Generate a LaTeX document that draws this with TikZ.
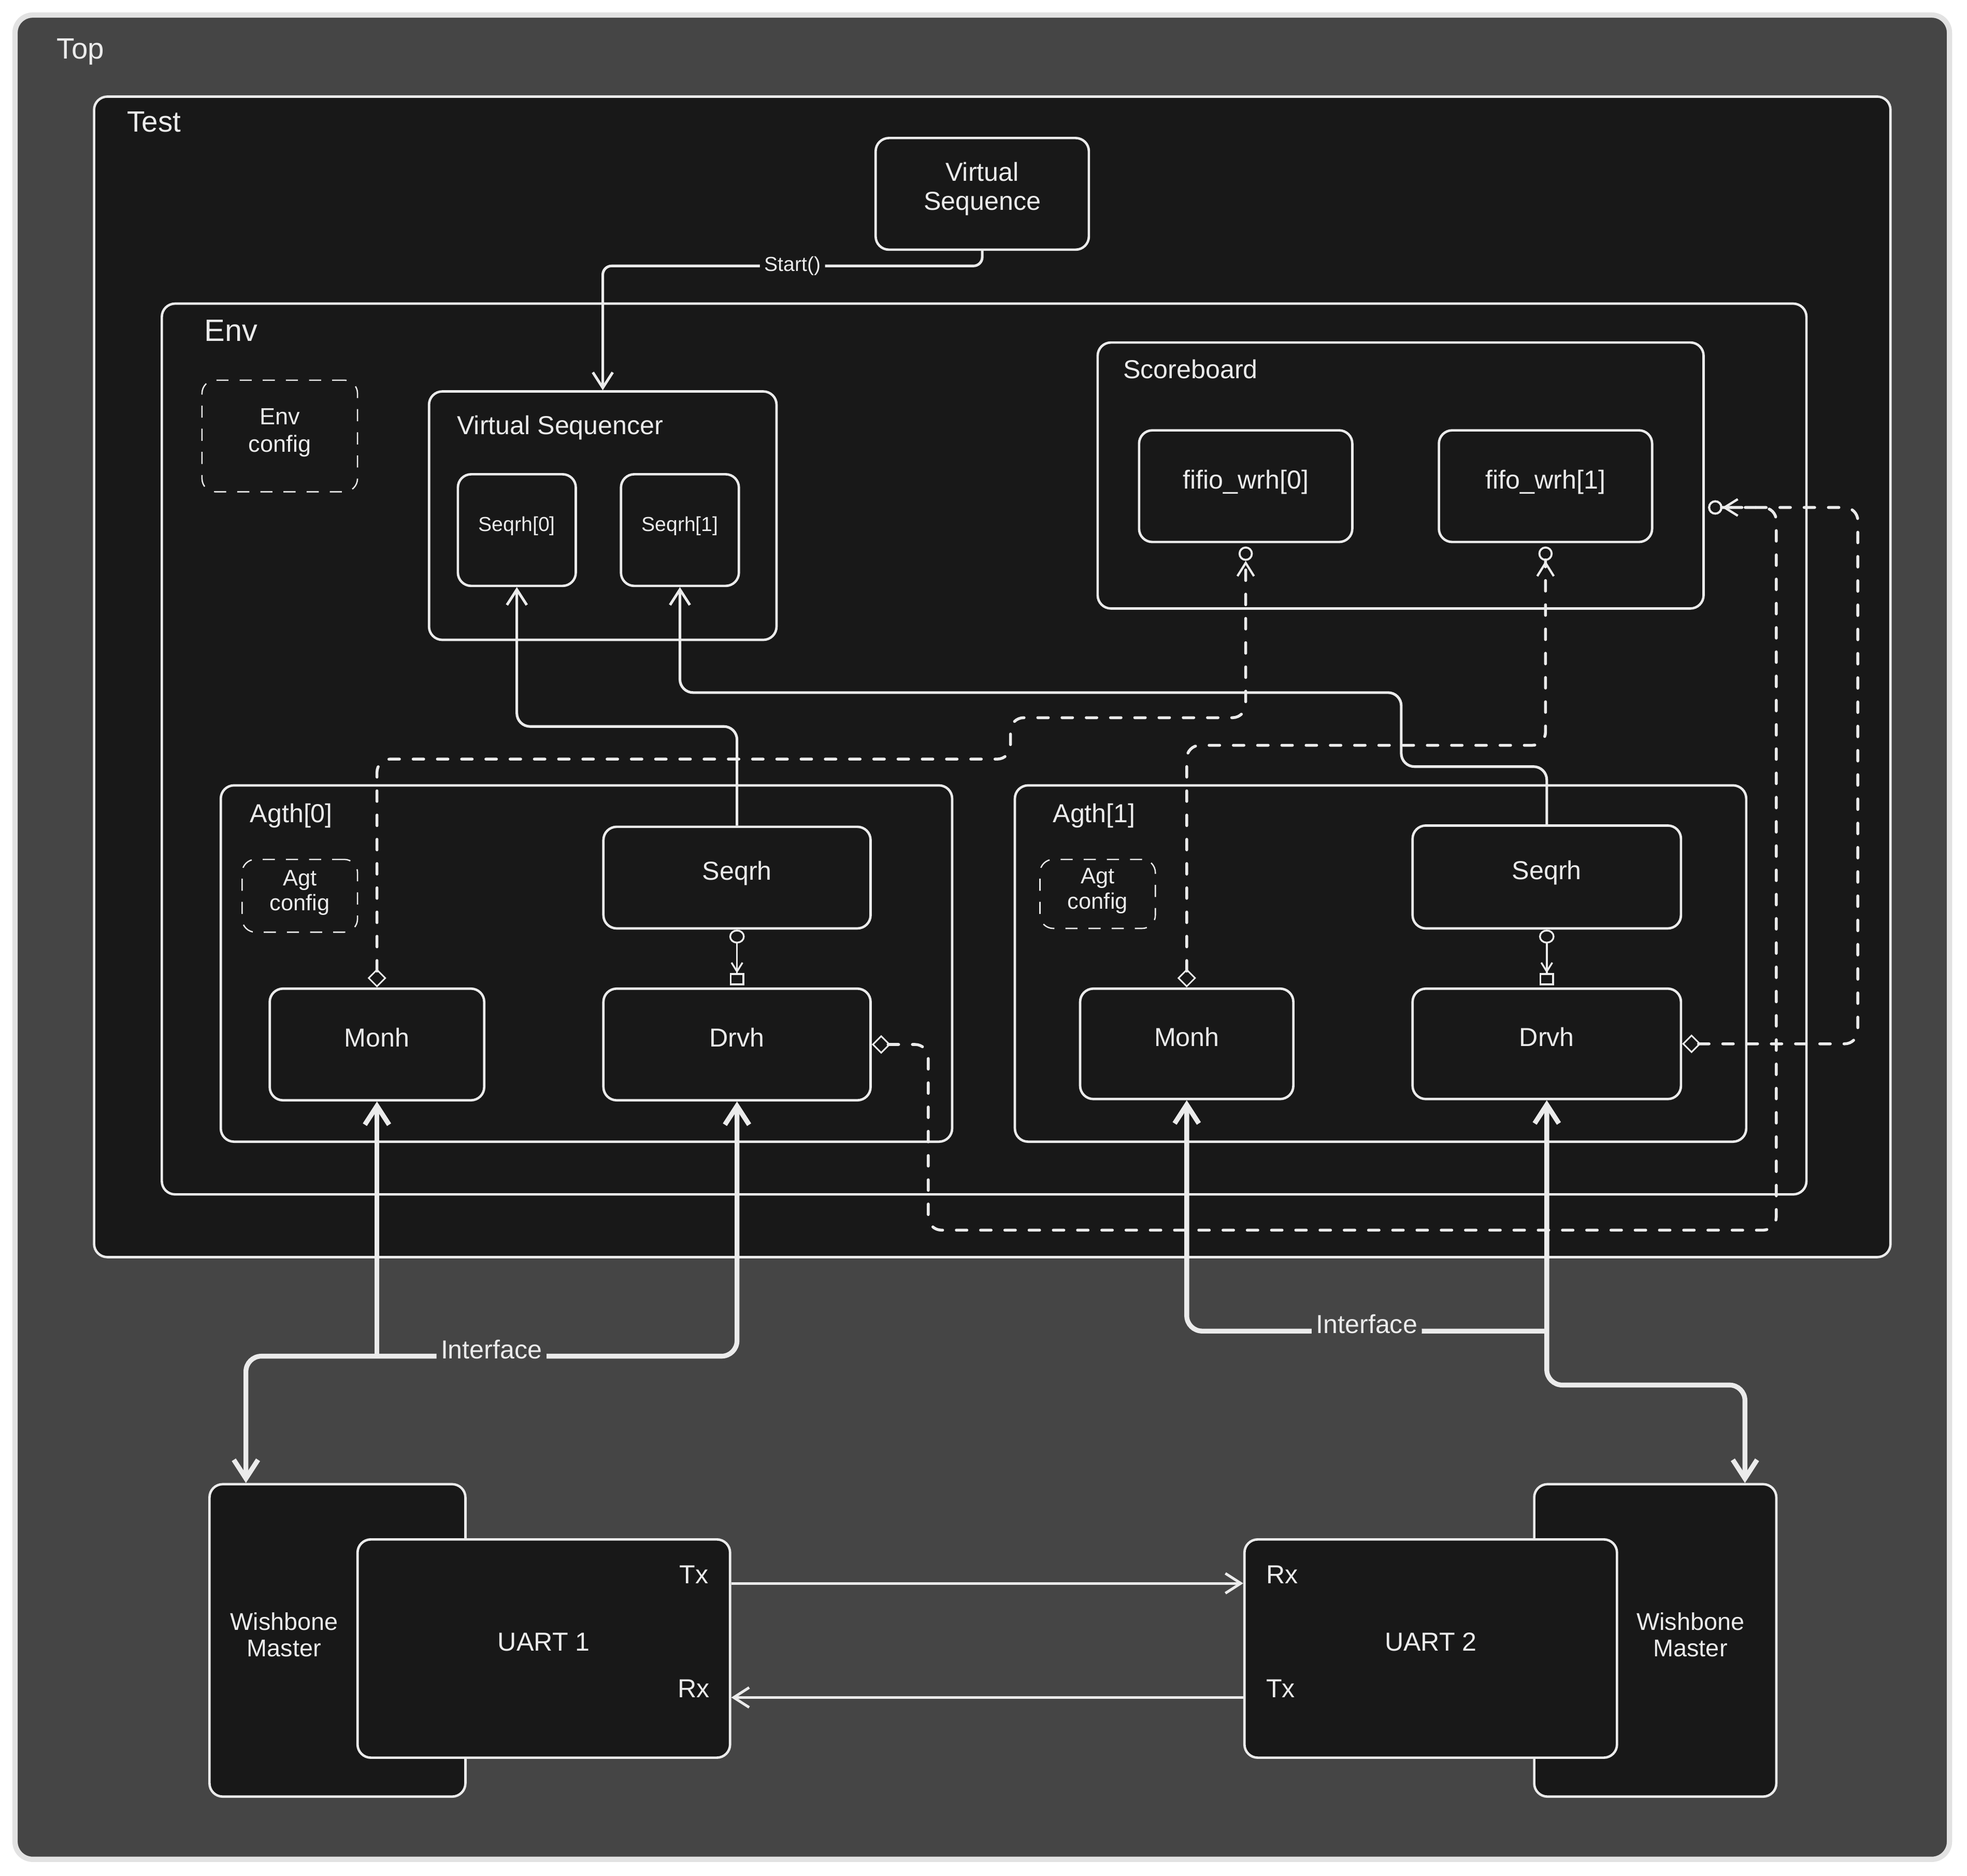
\documentclass[tikz,border=0pt]{standalone}
\usepackage{fontspec}
\setmainfont{Liberation Sans}
\usetikzlibrary{arrows.meta,calc,fit}

% colours
\definecolor{bgtop}{HTML}{454545}
\definecolor{panel}{HTML}{181818}
\definecolor{ink}{HTML}{EBEBEB}
\definecolor{rim}{HTML}{E2E2E2}

% fonts
\newcommand{\lblfont}{\fontsize{11.8pt}{13pt}\selectfont}
\newcommand{\ttlfont}{\fontsize{13.3pt}{16pt}\selectfont}
\newcommand{\envfont}{\fontsize{14pt}{17pt}\selectfont}
\newcommand{\smlfont}{\fontsize{9.2pt}{11pt}\selectfont}
\newcommand{\cfgfont}{\fontsize{10.2pt}{11.5pt}\selectfont}
\newcommand{\ecfgfont}{\fontsize{10.6pt}{12.4pt}\selectfont}
\newcommand{\wbfont}{\fontsize{11pt}{12pt}\selectfont}

\tikzset{
  busTip/.tip={Straight Barb[length=8.5pt,width=11pt]},
  thinTip/.tip={Straight Barb[length=7pt,width=9pt]},
  diaTip/.tip={Diamond[open,length=8.5pt,width=8.5pt,line width=0.7pt]},
  ringTip/.tip={Straight Barb[length=6pt,width=7.5pt,line width=1pt] Circle[open,length=6.5pt,width=6.5pt,line width=0.9pt,sep=1.5pt]},
  dotTip/.tip={Circle[open,length=6.3pt,width=7pt]},
  plugTip/.tip={Straight Barb[length=4pt,width=5pt] Square[open,length=5.5pt,width=6.5pt,sep=1pt]},
  frame/.style={draw=ink, fill=panel, line width=1.1pt, rounded corners=6pt, inner sep=0pt},
  box/.style={frame, text=ink, font=\lblfont, align=center, text height=8.9pt, text depth=6.7pt},
  twoline/.style={text height=21.9pt, text depth=7.3pt},
  small/.style={font=\smlfont, text height=6.8pt, text depth=5.6pt},
  cfgbox/.style={box, font=\cfgfont, line width=0.6pt, dash pattern=on 5.5pt off 5pt, text height=19.3pt, text depth=5.7pt},
  ttl/.style={text=ink, font=\lblfont, anchor=base west, inner sep=0pt},
  port/.style={text=ink, font=\lblfont, inner sep=0pt},
  conn/.style={draw=ink, line width=1.2pt, rounded corners=6pt, -thinTip},
  link/.style={draw=ink, line width=1.3pt, rounded corners=6pt, dash pattern=on 4.8pt off 6.2pt, line cap=round, diaTip-ringTip},
  bind/.style={draw=ink, line width=0.8pt, dotTip-plugTip},
  bus/.style={draw=ink, line width=2.2pt, rounded corners=7pt},
  buslbl/.style={fill=bgtop, text=ink, font=\lblfont, inner xsep=2pt, inner ysep=0pt, text height=8.9pt, text depth=6.7pt},
}

\begin{document}
\begin{tikzpicture}[x=0.02cm, y=-0.02cm]
    % canvas
    \fill[white] (0,0) rectangle (1568,1495);
    \useasboundingbox (0,0) rectangle (1568,1495);

    % Top, Test and the virtual sequence
    \node[frame, draw=rim, fill=bgtop, line width=2.4pt, rounded corners=8pt, fit={(12,12) (1554,1482)}] (top) {};
    \node[frame, fit={(75,77) (1507,1002)}] (test) {};
    \node[box, twoline, minimum width=3.40cm, minimum height=1.78cm] (vseq) at (783,154.5) {Virtual\\Sequence};

    % Env
    \node[frame, fit={(129,242) (1440,952)}] (env) {};
    \node[cfgbox, font=\ecfgfont, text height=20.4pt, text depth=6pt, minimum width=2.48cm, minimum height=1.78cm] (envcfg) at (223,347.5) {Env\\config};

    % Virtual sequencer
    \node[frame, fit={(342,312) (619,510)}] (vsqr) {};
    \node[box, small, minimum width=1.88cm, minimum height=1.78cm] (sq0) at (412,422.5) {Seqrh[0]};
    \node[box, small, minimum width=1.88cm, minimum height=1.78cm] (sq1) at (542,422.5) {Seqrh[1]};

    % Scoreboard
    \node[frame, fit={(875,273) (1358,485)}] (sb) {};
    \node[box, minimum width=3.40cm, minimum height=1.78cm] (fw0) at (993,387.5) {fifio\_wrh[0]};
    \node[box, minimum width=3.40cm, minimum height=1.78cm] (fw1) at (1232,387.5) {fifo\_wrh[1]};

    % Agent 0
    \node[frame, fit={(176,626) (759,910)}] (aga) {};
    \node[cfgbox, minimum width=1.84cm, minimum height=1.16cm] (cfga) at (239,714) {Agt\\config};
    \node[box, minimum width=4.26cm, minimum height=1.62cm] (sqa) at (587.5,699.5) {Seqrh};
    \node[box, minimum width=3.42cm, minimum height=1.78cm] (mona) at (300.5,832.5) {Monh};
    \node[box, minimum width=4.26cm, minimum height=1.78cm] (drva) at (587.5,832.5) {Drvh};

    % Agent 1
    \node[frame, fit={(809,626) (1392,910)}] (agb) {};
    \node[cfgbox, minimum width=1.84cm, minimum height=1.10cm] (cfgb) at (875,712.5) {Agt\\config};
    \node[box, minimum width=4.28cm, minimum height=1.64cm] (sqb) at (1233,699) {Seqrh};
    \node[box, minimum width=3.40cm, minimum height=1.76cm] (monb) at (946,832) {Monh};
    \node[box, minimum width=4.28cm, minimum height=1.76cm] (drvb) at (1233,832) {Drvh};

    % DUT side: wishbone masters behind the UARTs
    \node[frame, fit={(167,1183) (371,1432)}] (wba) {};
    \node[frame, fit={(1223,1183) (1416,1432)}] (wbb) {};
    \node[box, minimum width=5.94cm, minimum height=3.48cm] (ua) at (433.5,1314) {UART 1};
    \node[box, minimum width=5.94cm, minimum height=3.48cm] (ub) at (1140.5,1314) {UART 2};
    \node[port, font=\wbfont, align=center] (wbalbl) at (226.5,1302.8) {Wishbone\\Master};
    \node[port, font=\wbfont, align=center] (wbblbl) at (1347.5,1302.8) {Wishbone\\Master};
    \node[port, anchor=base east] (txa) at (565,1262) {Tx};
    \node[port, anchor=base east] (rxa) at (566,1353) {Rx};
    \node[port, anchor=base west] (rxb) at (1009,1262) {Rx};
    \node[port, anchor=base west] (txb) at (1009,1353) {Tx};

    % frame titles
    \node[ttl, font=\ttlfont] (toplbl) at (45,47) {Top};
    \node[ttl, font=\ttlfont] (testlbl) at (101,105) {Test};
    \node[ttl, font=\envfont] (envlbl) at (162.5,272) {Env};
    \node[ttl] (vsqrlbl) at (364,346.3) {Virtual Sequencer};
    \node[ttl] (sblbl) at (895,301.5) {Scoreboard};
    \node[ttl] (agalbl) at (199,655.6) {Agth[0]};
    \node[ttl] (agblbl) at (839,655.6) {Agth[1]};

    % sequence start
    \draw[conn, rounded corners=4pt] (vseq.south) -- ++(0,12) -| (vsqr.north)
        node[pos=0.25, fill=panel, text=ink, font=\smlfont, inner xsep=2pt, inner ysep=1pt] {Start()};

    % sequencer handles
    \draw[conn] (sqa.north) -- ++(0,-79) -| (sq0.south);
    \draw[conn] (sqb.north) -- ++(0,-46) -- ++(-116,0) -- ++(0,-59) -| (sq1.south);

    % sequencer to driver
    \draw[bind] (sqa.south) -- (drva.north);
    \draw[bind] (sqb.south) -- (drvb.north);

    % analysis ports to the scoreboard
    \draw[link] (mona.north) -- ++(0,-182) -- ++(505,0) -- ++(0,-33) -| (fw0.south);
    \draw[link] (monb.north) -- ++(0,-193) -| (fw1.south);
    \draw[link] (drva.east) -- ++(45,0) -- ++(0,148) -- ++(676,0) |- (sb.-6.4);
    \draw[link] (drvb.east) -- ++(140,0) |- (sb.-6.4);

    % interfaces
    \draw[bus, busTip-busTip] (drva.south) -- ++(0,203) coordinate (busa)
        -| ($(wba.north west)+(30,0)$) node[buslbl, pos=0.25] (ifa) {Interface};
    \draw[bus, busTip-] (mona.south) -- (mona.south |- busa);
    \draw[bus, busTip-busTip] (drvb.south) -- ++(0,227) -| ($(wbb.north east)+(-26,0)$);
    \draw[bus, busTip-] (monb.south) |- ($(drvb.south)+(0,184)$) node[buslbl, pos=0.75] (ifb) {Interface};

    % serial lines
    \draw[conn] (ua.east |- txa.base) -- (ub.west |- rxb.base);
    \draw[conn] (ub.west |- txb.base) -- (ua.east |- rxa.base);
\end{tikzpicture}
\end{document}
